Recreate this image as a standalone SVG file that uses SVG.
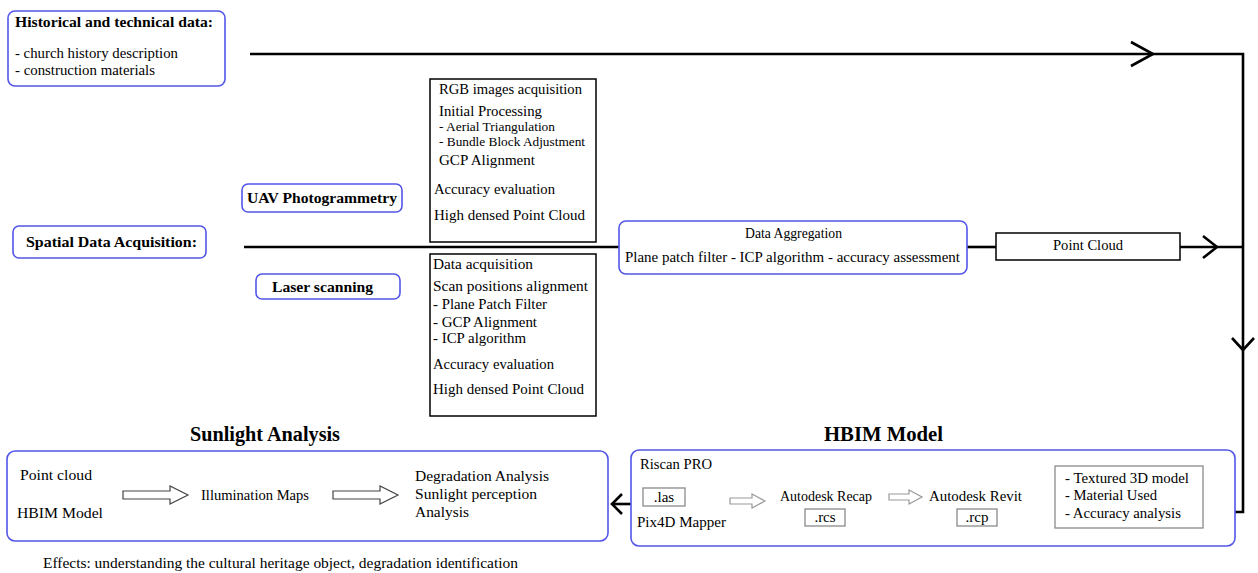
<svg xmlns="http://www.w3.org/2000/svg" width="1258" height="573" viewBox="0 0 1258 573">
<style>
.rb{fill:#fff;stroke:#5356e8;stroke-width:1.6}
.bb{fill:#fff;stroke:#000;stroke-width:1.5}
.gb{fill:#fff;stroke:#8a8a8a;stroke-width:1.3}
.t{font-family:"Liberation Serif","Times New Roman",serif;font-size:15px;fill:#000}
.b{font-weight:bold}
.s{font-size:13px}
.h{font-size:20px;font-weight:bold}
.ln{stroke:#000;stroke-width:2.6;fill:none}
.ah{stroke:#000;stroke-width:2.6;fill:none;stroke-linejoin:miter}
.ha{fill:#fff;stroke:#444;stroke-width:1.2}
.hb{fill:#fff;stroke:#999;stroke-width:1.2}
</style>
<rect width="1258" height="573" fill="#fff"/>

<g id="connectors">
  <polyline class="ln" points="250,54 1243,54 1243,512 1235,512"/>
  <polyline class="ah" points="1131,42 1153,54 1131,66"/>
  <polyline class="ah" points="1232,338 1243,350 1254,338"/>
  <line class="ln" x1="244" y1="247" x2="619" y2="247"/>
  <line class="ln" x1="967" y1="247" x2="996" y2="247"/>
  <line class="ln" x1="1180" y1="247" x2="1243" y2="247"/>
  <polyline class="ah" points="1203,236 1217,247 1203,258"/>
  <line class="ln" x1="631" y1="504" x2="612" y2="504"/>
  <polyline class="ah" points="622,494 612,504 622,514"/>
</g>

<g id="historical">
  <rect class="rb" x="8" y="11" width="217" height="75" rx="7"/>
  <text class="t b" x="15" y="27" textLength="198" lengthAdjust="spacingAndGlyphs">Historical and technical data:</text>
  <text class="t" x="15" y="58" textLength="163" lengthAdjust="spacingAndGlyphs">- church history description</text>
  <text class="t" x="15" y="75" textLength="140" lengthAdjust="spacingAndGlyphs">- construction materials</text>
</g>

<g id="spatial">
  <rect class="rb" x="13" y="226" width="193" height="32" rx="6"/>
  <text class="t b" x="26" y="247" textLength="171" lengthAdjust="spacingAndGlyphs">Spatial Data Acquisition:</text>
</g>

<g id="uav">
  <rect class="rb" x="242" y="184" width="160" height="28" rx="6"/>
  <text class="t b" x="247" y="203" textLength="150" lengthAdjust="spacingAndGlyphs">UAV Photogrammetry</text>
</g>

<g id="laser">
  <rect class="rb" x="256" y="274" width="144" height="25" rx="6"/>
  <text class="t b" x="272" y="292" textLength="101" lengthAdjust="spacingAndGlyphs">Laser scanning</text>
</g>

<g id="uav-steps">
  <rect class="bb" x="430" y="79" width="166" height="163"/>
  <text class="t" x="439" y="94" textLength="143" lengthAdjust="spacingAndGlyphs">RGB images acquisition</text>
  <text class="t" x="439" y="116" textLength="103" lengthAdjust="spacingAndGlyphs">Initial Processing</text>
  <text class="t s" x="439" y="131" textLength="116" lengthAdjust="spacingAndGlyphs">- Aerial Triangulation</text>
  <text class="t s" x="439" y="146" textLength="146" lengthAdjust="spacingAndGlyphs">- Bundle Block Adjustment</text>
  <text class="t" x="439" y="165" textLength="96" lengthAdjust="spacingAndGlyphs">GCP Alignment</text>
  <text class="t" x="434" y="194" textLength="121" lengthAdjust="spacingAndGlyphs">Accuracy evaluation</text>
  <text class="t" x="434" y="220" textLength="151" lengthAdjust="spacingAndGlyphs">High densed Point Cloud</text>
</g>

<g id="laser-steps">
  <rect class="bb" x="430" y="254" width="166" height="162"/>
  <text class="t" x="433" y="269" textLength="100" lengthAdjust="spacingAndGlyphs">Data acquisition</text>
  <text class="t" x="433" y="291" textLength="155" lengthAdjust="spacingAndGlyphs">Scan positions alignment</text>
  <text class="t" x="433" y="309" textLength="114" lengthAdjust="spacingAndGlyphs">- Plane Patch Filter</text>
  <text class="t" x="433" y="327" textLength="104" lengthAdjust="spacingAndGlyphs">- GCP Alignment</text>
  <text class="t" x="433" y="343" textLength="93" lengthAdjust="spacingAndGlyphs">- ICP algorithm</text>
  <text class="t" x="433" y="369" textLength="121" lengthAdjust="spacingAndGlyphs">Accuracy evaluation</text>
  <text class="t" x="433" y="394" textLength="151" lengthAdjust="spacingAndGlyphs">High densed Point Cloud</text>
</g>

<g id="aggregation">
  <rect class="rb" x="619" y="221" width="348" height="53" rx="7"/>
  <text class="t" x="745" y="238" textLength="97" lengthAdjust="spacingAndGlyphs">Data Aggregation</text>
  <text class="t" x="625" y="262" textLength="335" lengthAdjust="spacingAndGlyphs">Plane patch filter - ICP algorithm - accuracy assessment</text>
</g>

<g id="pointcloud">
  <rect class="bb" x="996" y="233" width="184" height="27"/>
  <text class="t" x="1053" y="250" textLength="70" lengthAdjust="spacingAndGlyphs">Point Cloud</text>
</g>

<g id="sunlight">
  <text class="t h" x="190" y="441" textLength="150" lengthAdjust="spacingAndGlyphs">Sunlight Analysis</text>
  <rect class="rb" x="7" y="451" width="601" height="90" rx="8"/>
  <text class="t" x="20" y="480" textLength="72" lengthAdjust="spacingAndGlyphs">Point cloud</text>
  <text class="t" x="17" y="518" textLength="86" lengthAdjust="spacingAndGlyphs">HBIM Model</text>
  <path class="ha" d="M123,491 H170 V486 L188,495 L170,504 V499 H123 Z"/>
  <text class="t" x="201" y="500" textLength="108" lengthAdjust="spacingAndGlyphs">Illumination Maps</text>
  <path class="ha" d="M333,491 H380 V486 L398,495 L380,504 V499 H333 Z"/>
  <text class="t" x="415" y="481" textLength="134" lengthAdjust="spacingAndGlyphs">Degradation Analysis</text>
  <text class="t" x="415" y="499" textLength="122" lengthAdjust="spacingAndGlyphs">Sunlight perception</text>
  <text class="t" x="415" y="517" textLength="54" lengthAdjust="spacingAndGlyphs">Analysis</text>
</g>

<g id="hbim">
  <text class="t h" x="824" y="441" textLength="119" lengthAdjust="spacingAndGlyphs">HBIM Model</text>
  <rect class="rb" x="631" y="450" width="604" height="96" rx="8"/>
  <text class="t" x="640" y="469" textLength="72" lengthAdjust="spacingAndGlyphs">Riscan PRO</text>
  <rect class="gb" x="643" y="488" width="42" height="18"/>
  <text class="t" x="664" y="502" text-anchor="middle">.las</text>
  <text class="t" x="637" y="527" textLength="89" lengthAdjust="spacingAndGlyphs">Pix4D Mapper</text>
  <path class="hb" d="M730,498 H752 V494 L765,501 L752,508 V504 H730 Z"/>
  <text class="t" x="780" y="501" textLength="92" lengthAdjust="spacingAndGlyphs">Autodesk Recap</text>
  <rect class="gb" x="805" y="509" width="40" height="17"/>
  <text class="t" x="825" y="522" text-anchor="middle">.rcs</text>
  <path class="hb" d="M889,494 H909 V490 L922,497 L909,504 V500 H889 Z"/>
  <text class="t" x="929" y="501" textLength="93" lengthAdjust="spacingAndGlyphs">Autodesk Revit</text>
  <rect class="gb" x="957" y="509" width="40" height="17"/>
  <text class="t" x="977" y="522" text-anchor="middle">.rcp</text>
  <rect class="gb" x="1055" y="466" width="148" height="62"/>
  <text class="t" x="1065" y="483" textLength="124" lengthAdjust="spacingAndGlyphs">- Textured 3D model</text>
  <text class="t" x="1065" y="500" textLength="92" lengthAdjust="spacingAndGlyphs">- Material Used</text>
  <text class="t" x="1065" y="518" textLength="116" lengthAdjust="spacingAndGlyphs">- Accuracy analysis</text>
</g>

<g id="effects">
  <text class="t" x="43" y="568" textLength="475" lengthAdjust="spacingAndGlyphs">Effects: understanding the cultural heritage object, degradation identification</text>
</g>
</svg>
